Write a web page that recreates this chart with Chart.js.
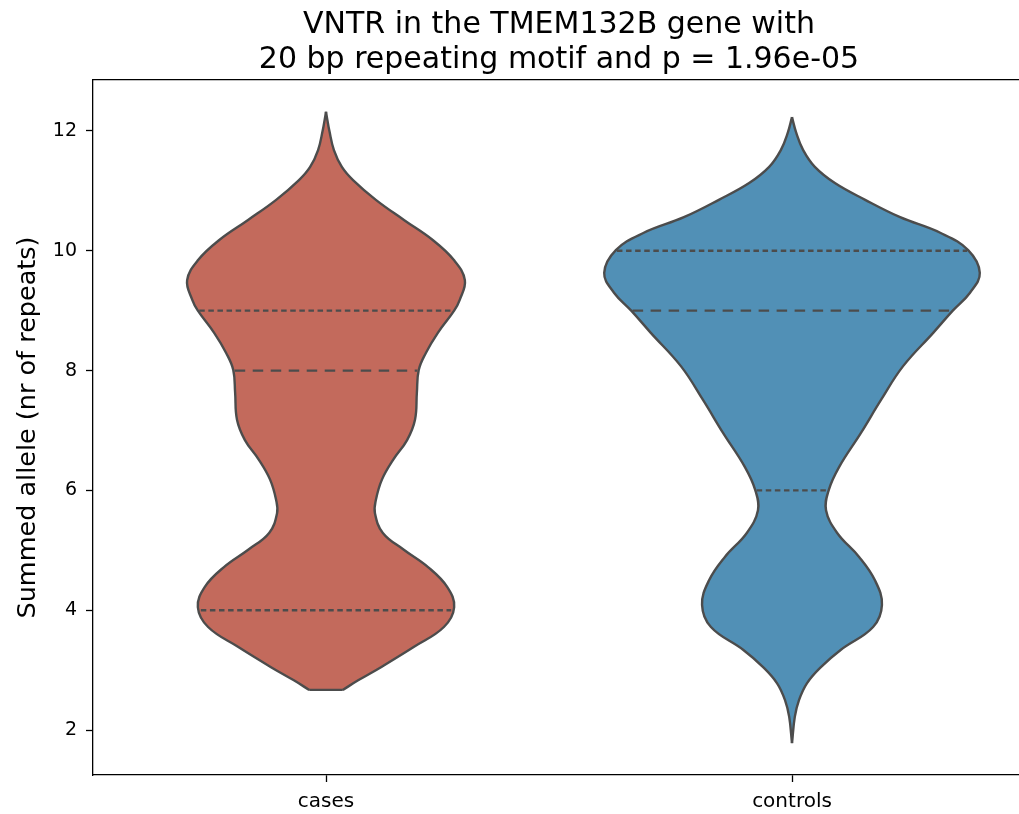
<!DOCTYPE html>
<html>
<head>
<meta charset="utf-8">
<script src="https://cdn.jsdelivr.net/npm/chart.js@4.4.1/dist/chart.umd.min.js"></script>
<style>
  html, body { margin: 0; padding: 0; background: #fff; overflow: hidden; }
  #wrap { width: 1019px; height: 814px; overflow: hidden; }
</style>
</head>
<body>
<div id="wrap"><canvas id="violin" width="1025" height="814"></canvas></div>
<script>
// groups on the x axis
const categories = ['cases', 'controls'];
const yTicks = [2, 4, 6, 8, 10, 12];

// violin outline: summed allele value -> half width (in category units)
const casesY = [2.67, 2.83, 3.05, 3.39, 3.72, 4.05, 4.39, 4.72, 5.01, 5.29, 5.62, 5.84, 6.18, 6.51, 6.84, 7.18, 7.63, 8.01, 8.29, 8.63, 9.00, 9.18, 9.51, 9.85, 10.18, 10.51, 10.85, 11.18, 11.40, 11.68, 12.01, 12.18, 12.32];
const casesHalf = [0.036, 0.069, 0.118, 0.189, 0.253, 0.275, 0.260, 0.219, 0.167, 0.122, 0.105, 0.107, 0.120, 0.144, 0.174, 0.191, 0.195, 0.199, 0.214, 0.240, 0.275, 0.287, 0.298, 0.274, 0.229, 0.168, 0.107, 0.058, 0.034, 0.017, 0.007, 0.003, 0];

const controlsY = [1.78, 2.22, 2.50, 2.78, 3.05, 3.34, 3.72, 4.09, 4.50, 4.89, 5.29, 5.67, 6.01, 6.39, 6.96, 7.51, 8.07, 8.63, 9.00, 9.30, 9.63, 10.01, 10.30, 10.56, 10.85, 11.13, 11.40, 11.68, 11.97, 12.23];
const controlsHalf = [0, 0.006, 0.015, 0.032, 0.062, 0.105, 0.174, 0.193, 0.178, 0.144, 0.097, 0.073, 0.079, 0.101, 0.148, 0.191, 0.238, 0.303, 0.345, 0.382, 0.403, 0.378, 0.318, 0.232, 0.157, 0.092, 0.049, 0.024, 0.009, 0];

// inner quartile lines: 25%, median, 75%
const casesQuartiles = [4, 8, 9];
const controlsQuartiles = [6, 9, 10];

const fills = ['#c36a5c', '#5190b6'];
const outline = '#4c4c4c';
const font = 'DejaVu Sans';

function halfAt(ys, hw, v) {
  for (let i = 1; i < ys.length; i++) {
    if (v <= ys[i]) {
      const t = (v - ys[i - 1]) / (ys[i] - ys[i - 1]);
      return hw[i - 1] + t * (hw[i] - hw[i - 1]);
    }
  }
  return 0;
}

const violins = [
  {ys: casesY, hw: casesHalf, q: casesQuartiles},
  {ys: controlsY, hw: controlsHalf, q: controlsQuartiles}
];

const lineSets = [];
const edgeSets = [];
violins.forEach((v, i) => {
  v.q.forEach((q, k) => {
    const w = halfAt(v.ys, v.hw, q) - 0.003;
    lineSets.push({
      data: [{x: i - w, y: q}, {x: i + w, y: q}],
      borderColor: outline,
      borderWidth: 2.3,
      borderDash: k === 1 ? [10.5, 7.5] : [5.5, 3.6],
      borderCapStyle: 'butt',
      tension: 0,
      pointRadius: 0,
      fill: false
    });
  });
  if (v.hw[0] > 0) {
    lineSets.push({
      data: [{x: i - v.hw[0], y: v.ys[0]}, {x: i + v.hw[0], y: v.ys[0]}],
      borderColor: outline,
      borderWidth: 2.4,
      tension: 0,
      pointRadius: 0,
      fill: false
    });
  }
  const common = {
    borderColor: outline,
    backgroundColor: fills[i],
    borderWidth: 2.4,
    tension: 0.4,
    pointRadius: 0
  };
  edgeSets.push(Object.assign({}, common, {
    data: v.ys.map((y, j) => ({x: i - v.hw[j], y: y})),
    fill: false
  }));
  edgeSets.push(Object.assign({}, common, {
    data: v.ys.map((y, j) => ({x: i + v.hw[j], y: y})),
    fill: '-1'
  }));
});

const config = {
  type: 'line',
  data: {datasets: lineSets.concat(edgeSets)},
  options: {
    indexAxis: 'y',
    responsive: false,
    animation: false,
    events: [],
    layout: {padding: 0},
    plugins: {
      legend: {display: false},
      tooltip: {enabled: false},
      title: {
        display: true,
        fullSize: false,
        text: ['VNTR in the TMEM132B gene with', '20 bp repeating motif and p = 1.96e-05'],
        color: '#000',
        font: {family: font, size: 30, weight: 'normal', lineHeight: 1.18},
        padding: {top: 7.5, bottom: 1.7}
      }
    },
    scales: {
      x: {
        type: 'linear',
        position: 'bottom',
        min: -0.5,
        max: 1.5,
        afterBuildTicks: s => { s.ticks = categories.map((c, i) => ({value: i})); },
        afterFit: s => { s.height = 39; },
        ticks: {
          callback: v => categories[v],
          color: '#000',
          padding: 8,
          font: {family: font, size: 20}
        },
        grid: {drawOnChartArea: false, drawTicks: true, tickLength: 7, tickColor: '#000', tickWidth: 1.3},
        border: {display: true, color: '#000', width: 1.3}
      },
      x2: {
        type: 'linear',
        position: 'top',
        min: -0.5,
        max: 1.5,
        ticks: {display: false},
        grid: {display: false, drawTicks: false},
        border: {display: true, color: '#000', width: 1.3}
      },
      y: {
        type: 'linear',
        min: 1.25,
        max: 12.85,
        afterBuildTicks: s => { s.ticks = yTicks.map(v => ({value: v})); },
        afterFit: s => { s.width = 93; },
        ticks: {
          color: '#000',
          padding: 9,
          font: {family: font, size: 19}
        },
        grid: {drawOnChartArea: false, drawTicks: true, tickLength: 7, tickColor: '#000', tickWidth: 1.3},
        border: {display: true, color: '#000', width: 1.3},
        title: {
          display: true,
          text: 'Summed allele (nr of repeats)',
          color: '#000',
          font: {family: font, size: 25.5},
          padding: {top: 13, bottom: 0}
        }
      }
    }
  }
};

const violinChart = new Chart(document.getElementById('violin'), config);
</script>
</body>
</html>
